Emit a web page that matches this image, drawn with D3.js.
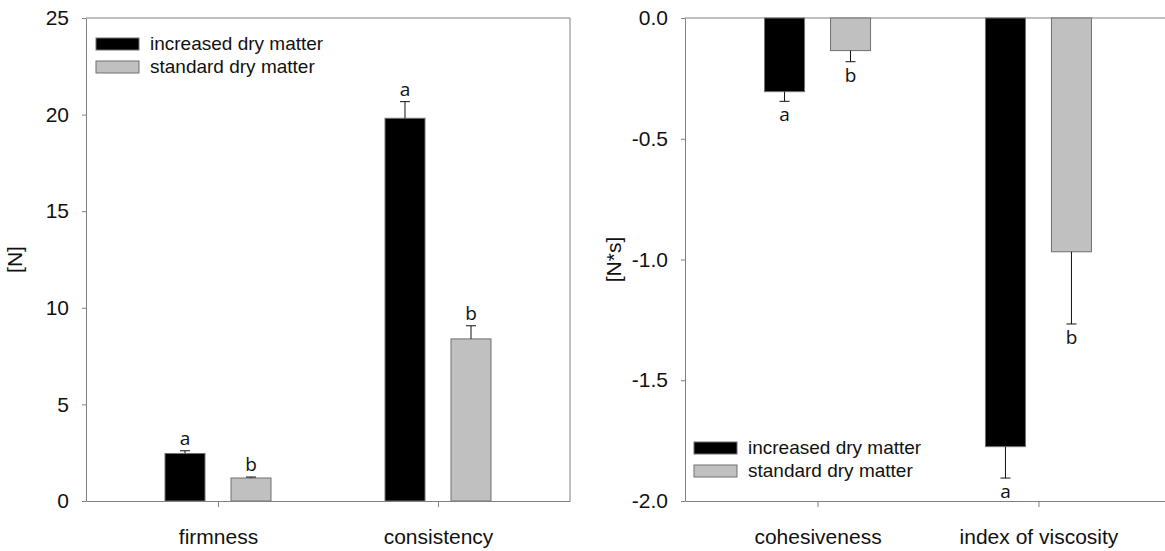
<!DOCTYPE html>
<html>
<head>
<meta charset="utf-8">
<script src="https://cdn.jsdelivr.net/npm/d3@7"></script>
<style>
  body { margin: 0; background: #fff; }
  svg { display: block; }
</style>
</head>
<body>
<svg id="chart" width="1165" height="551"></svg>
<script>
// ---- data ----
const series = ["increased dry matter", "standard dry matter"];
const seriesColors = ["#000000", "#c0c0c0"];

const leftCategories = ["firmness", "consistency"];
const leftIncreased = [2.46, 19.81];
const leftIncreasedErr = [0.14, 0.86];
const leftStandard = [1.19, 8.39];
const leftStandardErr = [0.05, 0.68];
const leftIncreasedLetters = ["a", "a"];
const leftStandardLetters = ["b", "b"];
const leftTicks = [0, 5, 10, 15, 20, 25];

const rightCategories = ["cohesiveness", "index of viscosity"];
const rightIncreased = [-0.305, -1.775];
const rightIncreasedErr = [0.04, 0.13];
const rightStandard = [-0.135, -0.968];
const rightStandardErr = [0.046, 0.299];
const rightIncreasedLetters = ["a", "a"];
const rightStandardLetters = ["b", "b"];
const rightTicks = [0, -0.5, -1, -1.5, -2];

function buildRows(cats, incr, incrErr, std, stdErr, incrLet, stdLet) {
  let rows = [];
  cats.forEach((c, i) => {
    rows.push({ cat: c, s: series[0], v: incr[i], e: incrErr[i], letter: incrLet[i] });
    rows.push({ cat: c, s: series[1], v: std[i], e: stdErr[i], letter: stdLet[i] });
  });
  return rows;
}

class BarPanel {

  constructor(_config) {
    this.config = {
      parentElement: _config.parentElement,
      left: _config.left,
      top: _config.top || 18,
      width: _config.width || 484,
      height: _config.height || 483,
      domain: _config.domain,
      ticks: _config.ticks,
      tickFormat: _config.tickFormat,
      categories: _config.categories,
      rows: _config.rows,
      yTitle: _config.yTitle,
      legendPos: _config.legendPos
    }
    this.initVis();
  }

  initVis() {
    let vis = this;
    let c = vis.config;

    vis.chart = d3.select(c.parentElement).append('g')
        .attr('transform', `translate(${c.left},${c.top})`);

    vis.xScale = d3.scalePoint()
      .domain(c.categories)
      .range([0, c.width])
      .padding(0.6);

    // bars inside a group: 40px wide, 26px apart
    vis.xInner = d3.scaleBand()
      .domain(series)
      .range([-53, 53])
      .paddingInner(0.394);

    vis.yScale = d3.scaleLinear()
      .domain(c.domain)
      .range([c.height, 0]);

    vis.color = d3.scaleOrdinal().domain(series).range(seriesColors);

    this.render();
  }

  render() {
    let vis = this;
    let c = vis.config;
    let y0 = vis.yScale(0);

    // frame (top and right edges)
    vis.chart.append('path')
      .attr('d', `M0,0H${c.width}V${c.height}`)
      .attr('fill', 'none')
      .attr('stroke', '#808080');

    // bars
    vis.chart.selectAll('rect.bar')
      .data(c.rows)
      .join('rect')
        .attr('class', 'bar')
        .attr('x', d => vis.xScale(d.cat) + vis.xInner(d.s))
        .attr('y', d => Math.min(y0, vis.yScale(d.v)))
        .attr('width', vis.xInner.bandwidth())
        .attr('height', d => Math.abs(vis.yScale(d.v) - y0))
        .attr('fill', d => vis.color(d.s))
        .attr('stroke', '#707070')
        .attr('stroke-width', 1);

    // error bars (one side, away from zero)
    let errEnd = d => d.v >= 0 ? d.v + d.e : d.v - d.e;
    let cx = d => vis.xScale(d.cat) + vis.xInner(d.s) + vis.xInner.bandwidth() / 2;

    vis.chart.selectAll('line.err')
      .data(c.rows)
      .join('line')
        .attr('class', 'err')
        .attr('x1', cx).attr('x2', cx)
        .attr('y1', d => vis.yScale(d.v))
        .attr('y2', d => vis.yScale(errEnd(d)))
        .attr('stroke', '#111');

    vis.chart.selectAll('line.cap')
      .data(c.rows)
      .join('line')
        .attr('class', 'cap')
        .attr('x1', d => cx(d) - 5).attr('x2', d => cx(d) + 5)
        .attr('y1', d => vis.yScale(errEnd(d)))
        .attr('y2', d => vis.yScale(errEnd(d)))
        .attr('stroke', '#111');

    // significance letters
    vis.chart.selectAll('text.letter')
      .data(c.rows)
      .join('text')
        .attr('class', 'letter')
        .attr('x', cx)
        .attr('y', d => vis.yScale(errEnd(d)) + (d.v >= 0 ? -6 : 20))
        .attr('text-anchor', 'middle')
        .style('font-family', '"Open Sans", "Noto Sans", sans-serif')
        .style('font-size', '19px')
        .style('fill', '#111')
        .text(d => d.letter);

    // axes
    let yAxis = d3.axisLeft(vis.yScale)
      .tickValues(c.ticks)
      .tickFormat(c.tickFormat)
      .tickSizeInner(4)
      .tickSizeOuter(0)
      .tickPadding(13);

    let xAxis = d3.axisBottom(vis.xScale)
      .tickSizeInner(6)
      .tickSizeOuter(0)
      .tickPadding(22);

    let yAxisG = vis.chart.append('g').call(yAxis);
    let xAxisG = vis.chart.append('g')
        .attr('transform', `translate(0,${c.height})`)
        .call(xAxis);

    [yAxisG, xAxisG].forEach(g => {
      g.selectAll('path, line').attr('stroke', '#808080');
      g.selectAll('text')
        .style('font-family', '"Liberation Sans", Arial, sans-serif')
        .style('font-size', '21px')
        .style('fill', '#111');
    });

    vis.chart.append('text')
      .attr('transform', `translate(${-64},${c.height / 2}) rotate(-90)`)
      .attr('text-anchor', 'middle')
      .style('font-family', '"Liberation Sans", Arial, sans-serif')
      .style('font-size', '21px')
      .style('fill', '#111')
      .text(c.yTitle);

    // legend
    let legend = vis.chart.append('g')
        .attr('transform', `translate(${c.legendPos[0]},${c.legendPos[1]})`);

    let item = legend.selectAll('g')
      .data(series)
      .join('g')
        .attr('transform', (d, i) => `translate(0,${i * 23})`);

    item.append('rect')
      .attr('width', 43)
      .attr('height', 12)
      .attr('fill', d => vis.color(d))
      .attr('stroke', '#707070');

    item.append('text')
      .attr('x', 54)
      .attr('y', 12)
      .style('font-family', '"Liberation Sans", Arial, sans-serif')
      .style('font-size', '19px')
      .style('fill', '#111')
      .text(d => d);
  }
}

new BarPanel({
  parentElement: '#chart',
  left: 86,
  domain: [0, 25],
  ticks: leftTicks,
  tickFormat: d => d,
  categories: leftCategories,
  rows: buildRows(leftCategories, leftIncreased, leftIncreasedErr, leftStandard, leftStandardErr,
                  leftIncreasedLetters, leftStandardLetters),
  yTitle: '[N]',
  legendPos: [10, 20]
});

new BarPanel({
  parentElement: '#chart',
  left: 685,
  width: 486,
  domain: [-2, 0],
  ticks: rightTicks,
  tickFormat: d => d.toFixed(1),
  categories: rightCategories,
  rows: buildRows(rightCategories, rightIncreased, rightIncreasedErr, rightStandard, rightStandardErr,
                  rightIncreasedLetters, rightStandardLetters),
  yTitle: '[N*s]',
  legendPos: [9, 424]
});
</script>
</body>
</html>
